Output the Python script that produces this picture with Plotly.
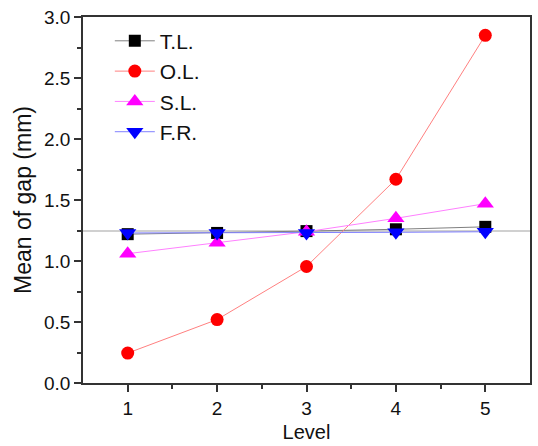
import plotly.graph_objects as go

levels = [1, 2, 3, 4, 5]
tl = [1.22, 1.23, 1.245, 1.26, 1.28]
ol = [0.245, 0.52, 0.955, 1.67, 2.85]
sl = [1.06, 1.15, 1.24, 1.35, 1.47]
fr = [1.23, 1.23, 1.23, 1.235, 1.24]
ref_level = 1.245

series = [
    ("T.L.", tl, "#000000", "#808080", "square", 12),
    ("O.L.", ol, "#ff0000", "#ff8080", "circle", 13),
    ("S.L.", sl, "#ff00ff", "#ff80ff", "triangle-up", 15),
    ("F.R.", fr, "#0000ff", "#8080ff", "triangle-down", 15),
]

fig = go.Figure()
for name, vals, mc, lc, sym, sz in series:
    fig.add_trace(go.Scatter(
        x=levels, y=vals, name=name, mode="lines+markers",
        line=dict(color=lc, width=1),
        marker=dict(color=mc, symbol=sym, size=sz, line=dict(width=0)),
    ))

fig.add_shape(type="line", xref="paper", x0=0, x1=1, yref="y", y0=ref_level, y1=ref_level,
              line=dict(color="#c0c0c0", width=1.5), layer="below")

axis_common = dict(
    showgrid=False, zeroline=False, showline=True, linecolor="#333333", linewidth=1.5,
    mirror=True, ticks="outside", ticklen=7, tickwidth=1.5, tickcolor="#333333",
    tickfont=dict(family="Liberation Sans, Arial", size=19, color="#111111"),
)

fig.update_layout(
    width=538, height=446,
    margin=dict(l=83, r=6, t=17, b=62),
    paper_bgcolor="white", plot_bgcolor="white",
    font=dict(family="Liberation Sans, Arial", color="#111111"),
    showlegend=True,
    legend=dict(x=0.06, y=0.99, xanchor="left", yanchor="top",
                font=dict(size=21, family="Liberation Sans, Arial"),
                bgcolor="rgba(0,0,0,0)", tracegroupgap=0, itemwidth=40),
    xaxis=dict(range=[0.5, 5.5], tickvals=levels, ticktext=[str(v) for v in levels],
               minor=dict(tickvals=[1.5, 2.5, 3.5, 4.5], ticklen=4, tickcolor="#333333", ticks="outside"),
               title=dict(text="Level", font=dict(size=20), standoff=7),
               **axis_common),
    yaxis=dict(range=[0, 3.0], tickvals=[0, 0.5, 1.0, 1.5, 2.0, 2.5, 3.0],
               ticktext=["0.0", "0.5", "1.0", "1.5", "2.0", "2.5", "3.0"],
               minor=dict(tickvals=[0.25, 0.75, 1.25, 1.75, 2.25, 2.75], ticklen=4, tickcolor="#333333", ticks="outside"),
               title=dict(text="Mean of gap (mm)", font=dict(size=23), standoff=6),
               **axis_common),
)

fig.write_html("out.html")
